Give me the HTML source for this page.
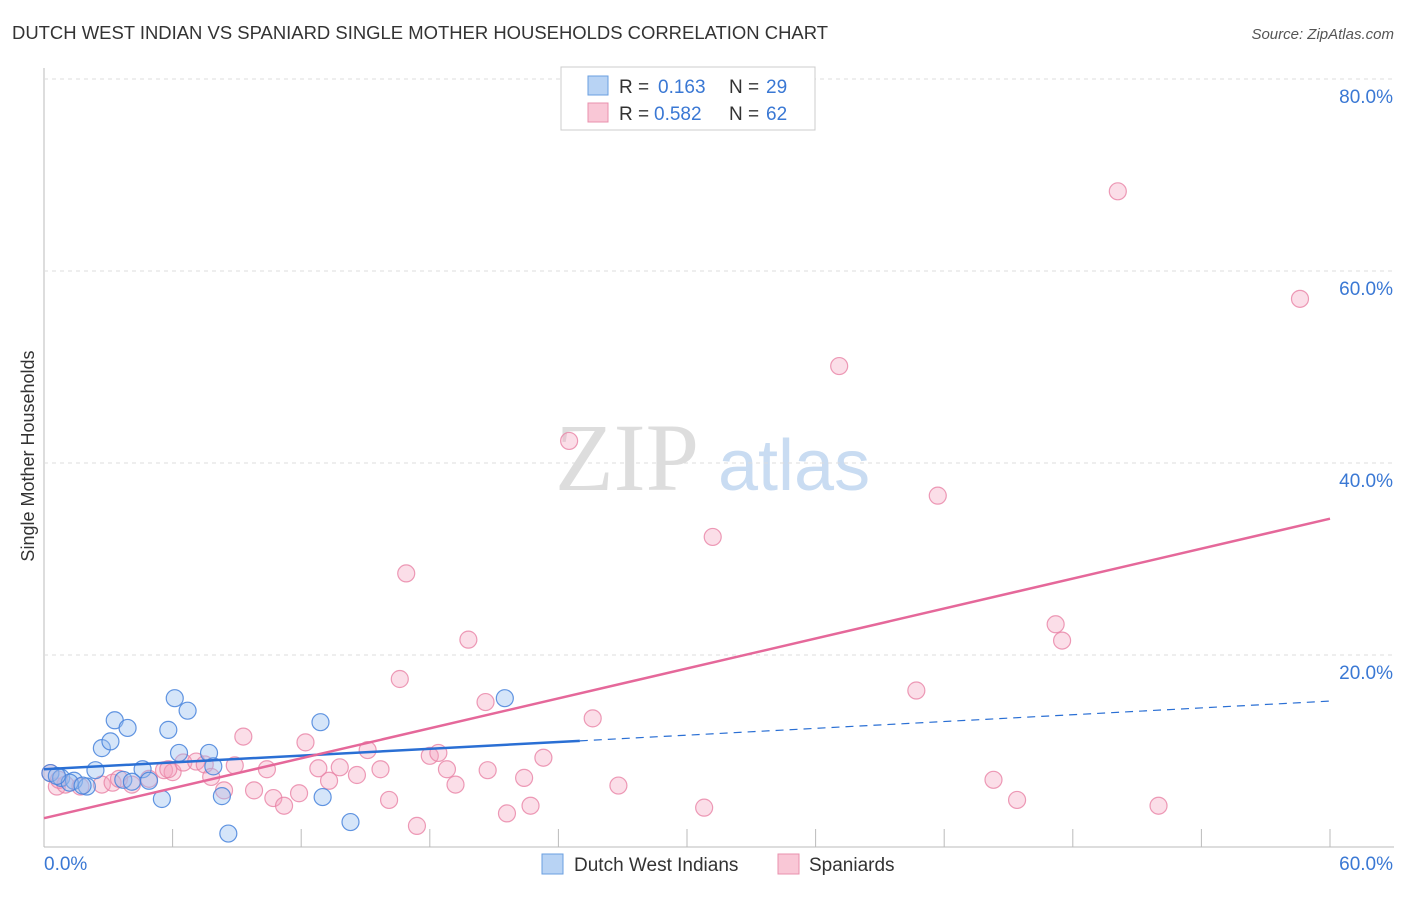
<!DOCTYPE html>
<html><head><meta charset="utf-8"><style>
body{margin:0;background:#fff;font-family:"Liberation Sans",sans-serif}
#c{position:relative;width:1406px;height:892px}
</style></head><body>
<div id="c">
<svg id="s" width="1406" height="892" xmlns="http://www.w3.org/2000/svg">
<text x="12" y="39" font-size="18" fill="#333" textLength="816" lengthAdjust="spacingAndGlyphs">DUTCH WEST INDIAN VS SPANIARD SINGLE MOTHER HOUSEHOLDS CORRELATION CHART</text>
<text x="1394" y="39" font-size="15" fill="#555" font-style="italic" text-anchor="end">Source: ZipAtlas.com</text>
<text x="34" y="456" font-size="18" fill="#333" text-anchor="middle" transform="rotate(-90 34 456)">Single Mother Households</text>
<text x="555" y="490" font-size="96" fill="#ddd" font-family="Liberation Serif,serif">ZIP</text>
<text x="718" y="490" font-size="72" fill="#c9dcf2">atlas</text>
<g id="grid"></g><g id="pts"></g><g id="lines"></g>
<g>
<rect x="561" y="67" width="254" height="63" fill="#fff" stroke="#ccc"/>
<rect x="588" y="76" width="20" height="19" fill="#b8d3f4" stroke="#6a9fe0"/>
<rect x="588" y="103" width="20" height="19" fill="#f9c7d6" stroke="#e990ad"/>
<text x="619" y="93" font-size="19" fill="#333">R =</text><text x="658" y="93" font-size="19" fill="#3a78d4">0.163</text>
<text x="729" y="93" font-size="19" fill="#333">N =</text><text x="766" y="93" font-size="19" fill="#3a78d4">29</text>
<text x="619" y="120" font-size="19" fill="#333">R =</text><text x="654" y="120" font-size="19" fill="#3a78d4">0.582</text>
<text x="729" y="120" font-size="19" fill="#333">N =</text><text x="766" y="120" font-size="19" fill="#3a78d4">62</text>
</g>
<g>
<rect x="542" y="854" width="21" height="20" fill="#b8d3f4" stroke="#6a9fe0"/>
<text x="574" y="871" font-size="19" fill="#333">Dutch West Indians</text>
<rect x="778" y="854" width="21" height="20" fill="#f9c7d6" stroke="#e990ad"/>
<text x="809" y="871" font-size="19" fill="#333">Spaniards</text>
</g>
</svg></div>
<script>
const yTicks=[20,40,60,80];
const yTickLabels=["20.0%","40.0%","60.0%","80.0%"];
const xTickLabels=["0.0%","60.0%"];
const blueX=[0.3,0.8,1.4,2.0,2.4,2.7,3.1,3.3,3.9,4.6,4.9,5.5,5.8,6.1,6.3,6.7,7.7,7.9,8.3,8.6,12.9,13.0,14.3,21.5,3.7,4.1,1.2,1.8,0.6];
const blueY=[7.7,7.2,6.9,6.3,8.0,10.3,11.0,13.2,12.4,8.1,6.9,5.0,12.2,15.5,9.8,14.2,9.8,8.4,5.3,1.4,13.0,5.2,2.6,15.5,7.0,6.8,6.7,6.4,7.4];
const pinkX=[0.3,0.6,1.0,1.7,2.7,3.2,3.5,4.1,4.9,5.6,6.0,6.5,7.1,7.5,7.8,8.4,8.9,9.3,9.8,10.4,10.7,11.2,11.9,12.2,12.8,13.3,13.8,14.6,15.1,15.7,16.1,16.6,16.9,17.4,18.0,18.4,18.8,19.2,19.8,20.6,20.7,21.6,22.4,22.7,23.3,24.5,25.6,26.8,30.8,31.2,37.1,40.7,41.7,44.3,45.4,47.2,47.5,50.1,52.0,58.6,5.8,0.7];
const pinkY=[7.7,6.3,6.5,6.3,6.5,6.7,7.1,6.5,7.1,8.0,7.8,8.8,8.9,8.6,7.3,5.9,8.5,11.5,5.9,8.1,5.1,4.3,5.6,10.9,8.2,6.9,8.3,7.5,10.1,8.1,4.9,17.5,28.5,2.2,9.5,9.8,8.1,6.5,21.6,15.1,8.0,3.5,7.2,4.3,9.3,42.3,13.4,6.4,4.1,32.3,50.1,16.3,36.6,7.0,4.9,23.2,21.5,68.3,4.3,57.1,8.1,7.0];
const blueLine=[8.1,15.2]; const blueSolidEnd=25;
const pinkLine=[3.0,34.2];
const X0=44,X1=1330,Y0=847,YT=79;
const xs=v=>X0+(v/60)*(X1-X0), ys=v=>Y0-(v/80)*(Y0-YT);
const NS="http://www.w3.org/2000/svg";
function mk(t,a,p){const e=document.createElementNS(NS,t);for(const k in a)e.setAttribute(k,a[k]);p.appendChild(e);return e;}
const g=document.getElementById('grid');
mk('line',{x1:X0,y1:68,x2:X0,y2:Y0,stroke:'#bbb'},g);
const xa=mk('line',{x1:X0,y1:Y0,x2:1394,y2:Y0,stroke:'#bbb'},g);

yTicks.forEach((t,i)=>{
 const l=mk('line',{x1:X0,y1:ys(t),x2:1394,y2:ys(t),stroke:'#ddd','stroke-dasharray':'4 4'},g);
 
 const tx=mk('text',{x:1393,y:ys(t)+24,'font-size':19,fill:'#3a78d4','text-anchor':'end'},g);
 tx.textContent=yTickLabels[i];
 
});
for(let i=1;i<=10;i++){const x=X0+i*(X1-X0)/10;const l=mk('line',{x1:x,y1:Y0-18,x2:x,y2:Y0,stroke:'#bbb'},g);}
const t0=mk('text',{x:44,y:870,'font-size':19,fill:'#3a78d4'},g);t0.textContent=xTickLabels[0];
const t1=mk('text',{x:1393,y:870,'font-size':19,fill:'#3a78d4','text-anchor':'end'},g);t1.textContent=xTickLabels[1];
const P=document.getElementById('pts');
pinkX.forEach((x,i)=>{const c=mk('circle',{cx:xs(x),cy:ys(pinkY[i]),r:8.5,fill:'rgba(244,160,190,0.35)',stroke:'rgba(232,130,165,0.8)','stroke-width':1.2},P);});
blueX.forEach((x,i)=>{const c=mk('circle',{cx:xs(x),cy:ys(blueY[i]),r:8.5,fill:'rgba(150,190,240,0.4)',stroke:'rgba(70,130,220,0.85)','stroke-width':1.2},P);});
const L=document.getElementById('lines');
const by=x=>blueLine[0]+(blueLine[1]-blueLine[0])*x/60;
const b1=mk('line',{x1:xs(0),y1:ys(by(0)),x2:xs(blueSolidEnd),y2:ys(by(blueSolidEnd)),stroke:'#2a6fd4','stroke-width':2.5},L);
const b2=mk('line',{x1:xs(blueSolidEnd),y1:ys(by(blueSolidEnd)),x2:xs(60),y2:ys(by(60)),stroke:'#2a6fd4','stroke-width':1.2,'stroke-dasharray':'8 6'},L);
const p1=mk('line',{x1:xs(0),y1:ys(pinkLine[0]),x2:xs(60),y2:ys(pinkLine[1]),stroke:'#e5689a','stroke-width':2.5},L);
</script>
</body></html>
